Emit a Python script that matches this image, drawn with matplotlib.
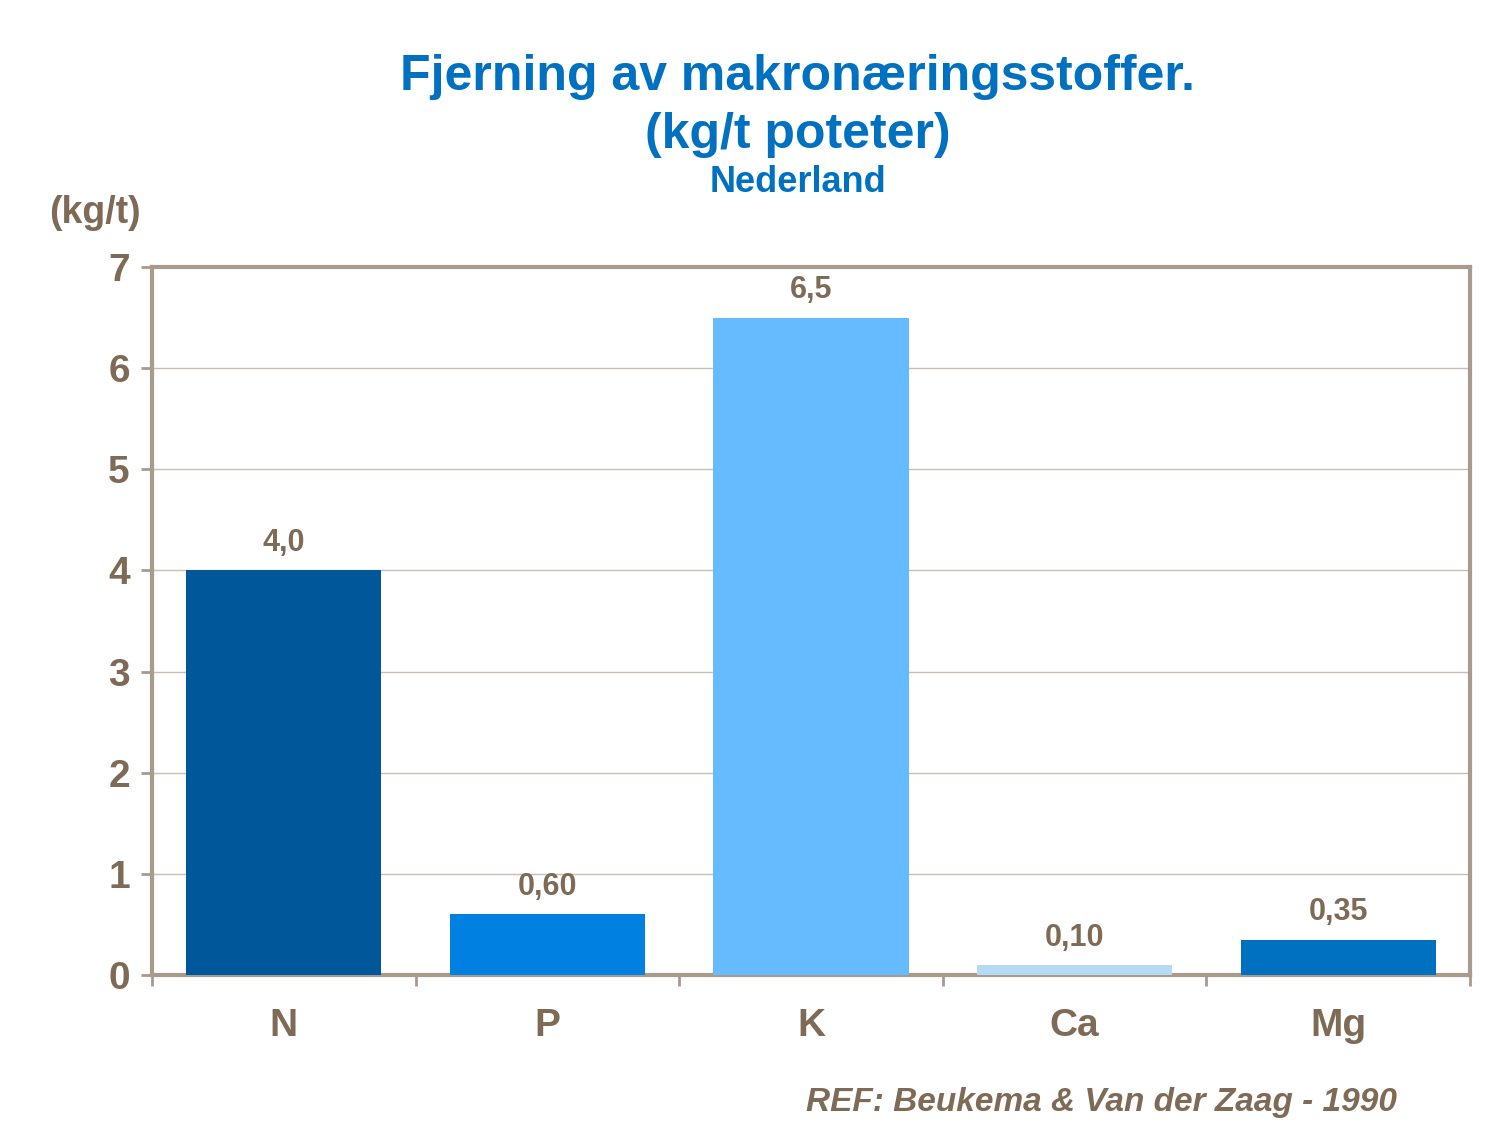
import matplotlib
matplotlib.use("Agg")
import matplotlib.pyplot as plt

categories = ["N", "P", "K", "Ca", "Mg"]
values = [4.0, 0.60, 6.5, 0.10, 0.35]
value_labels = ["4,0", "0,60", "6,5", "0,10", "0,35"]
colors = ["#00579A", "#0080E0", "#66BBFF", "#B4DAF5", "#0070C0"]
yticks = [0, 1, 2, 3, 4, 5, 6, 7]

plt.rcParams['font.family'] = ['Liberation Sans', 'DejaVu Sans']
brown = "#7F6A55"
spine = "#A89B8C"

fig = plt.figure(figsize=(15, 11.25), dpi=100)
ax = fig.add_axes([152/1500, 1-975/1125, (1470-152)/1500, (975-267)/1125])
x = range(len(categories))
ax.bar(x, values, width=0.74, color=colors, zorder=3)
for i, (v, lab) in enumerate(zip(values, value_labels)):
    ax.text(i, v + 0.12, lab, ha="center", va="bottom", fontsize=22, fontweight="bold", color=brown)
ax.set_xlim(-0.5, 4.5)
ax.set_ylim(0, 7)
ax.set_yticks(yticks)
ax.set_xticks(x)
ax.set_xticklabels(categories)
ax.set_xticks([i - 0.5 for i in range(6)], minor=True)
ax.tick_params(axis="x", which="major", length=0, pad=24, labelsize=28, labelcolor=brown)
ax.tick_params(axis="x", which="minor", length=8, color=spine, width=2, direction="out")
ax.tick_params(axis="y", length=8, color=spine, width=2, labelsize=28, labelcolor=brown, pad=8)
for l in ax.get_xticklabels() + ax.get_yticklabels():
    l.set_fontweight("bold")
ax.grid(axis="y", color="#C8BEB4", linewidth=1, zorder=0)
for s in ax.spines.values():
    s.set_color(spine)
    s.set_linewidth(3)

fig.text(0.532, 1-77/1125, "Fjerning av makronæringsstoffer.", ha="center", va="center",
         fontsize=36, fontweight="bold", color="#0070C0")
fig.text(0.532, 1-135/1125, "(kg/t poteter)", ha="center", va="center",
         fontsize=36, fontweight="bold", color="#0070C0")
fig.text(0.532, 1-183/1125, "Nederland", ha="center", va="center",
         fontsize=26, fontweight="bold", color="#0070C0")
fig.text(95/1500, 1-213/1125, "(kg/t)", ha="center", va="center",
         fontsize=27, fontweight="bold", color=brown)
fig.text(1397/1500, 1-1103/1125, "REF: Beukema & Van der Zaag - 1990", ha="right", va="center",
         fontsize=24, fontweight="bold", fontstyle="italic", color=brown)

fig.savefig("out.png", dpi=100)
